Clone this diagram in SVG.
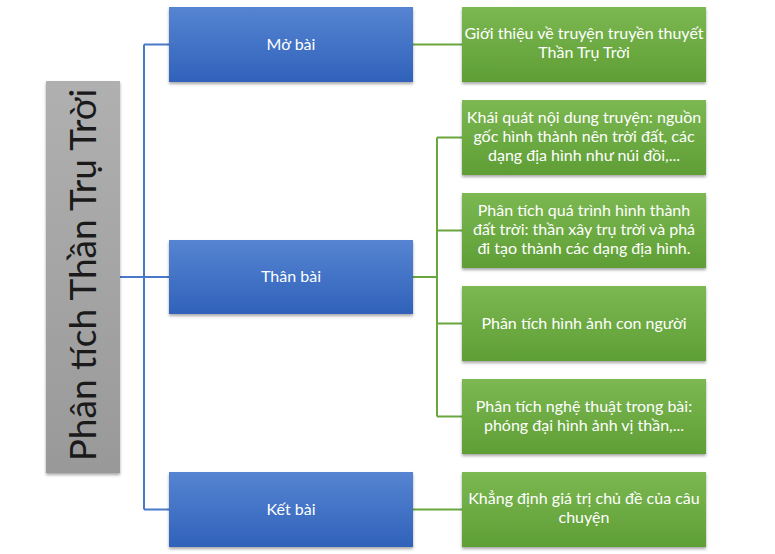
<svg xmlns="http://www.w3.org/2000/svg" width="775" height="554" viewBox="0 0 775 554">
<defs>
<linearGradient id="gBlue" x1="0" y1="0" x2="0" y2="1"><stop offset="0" stop-color="#5684d2"/><stop offset="1" stop-color="#3062ba"/></linearGradient>
<linearGradient id="gGreen" x1="0" y1="0" x2="0" y2="1"><stop offset="0" stop-color="#7cb852"/><stop offset="1" stop-color="#5f9e35"/></linearGradient>
<linearGradient id="gGray" x1="0" y1="0" x2="0" y2="1"><stop offset="0" stop-color="#b0b0b0"/><stop offset="1" stop-color="#999999"/></linearGradient>
<filter id="sh" x="-10%" y="-10%" width="120%" height="130%"><feDropShadow dx="0" dy="2" stdDeviation="1.5" flood-color="#000" flood-opacity="0.35"/></filter>
</defs>
<style>
.blue{fill:url(#gBlue);filter:url(#sh)}
.green{fill:url(#gGreen);filter:url(#sh)}
.gray{fill:url(#gGray);filter:url(#sh)}
.t{font-family:Lato,"Liberation Sans",sans-serif;font-size:16px;fill:#fff;text-anchor:middle}
.title{font-family:Lato,"Liberation Sans",sans-serif;font-size:37px;fill:#1a1a1a;text-anchor:middle}
.cb{fill:none;stroke:#4a78c8;stroke-width:2}
.cg{fill:none;stroke:#6aa63e;stroke-width:2}
</style>
<g id="connectors">
<path class="cb" d="M120,277 H169 M144,44.5 V509.5 M144,44.5 H169 M144,509.5 H169"/>
<path class="cg" d="M413,44.5 H462 M413,277 H437 M437,137.5 V416.5 M437,137.5 H462 M437,230.5 H462 M437,323.5 H462 M437,416.5 H462 M413,509.5 H462"/>
</g>
<g id="root"><rect class="gray" x="46" y="81" width="74" height="392"/><text class="title" transform="translate(96,275) rotate(-90)">Phân tích Thần Trụ Trời</text></g>
<g id="mobai"><rect class="blue" x="169" y="7" width="244" height="75"/><text class="t" x="291" y="50">Mở bài</text></g>
<g id="thanbai"><rect class="blue" x="169" y="240" width="244" height="74"/><text class="t" x="291" y="282">Thân bài</text></g>
<g id="ketbai"><rect class="blue" x="169" y="472" width="244" height="75"/><text class="t" x="291" y="515">Kết bài</text></g>
<g id="g1"><rect class="green" x="462" y="7" width="244" height="75"/><text class="t" x="584" y="39">Giới thiệu về truyện truyền thuyết</text><text class="t" x="584" y="58">Thần Trụ Trời</text></g>
<g id="g2"><rect class="green" x="462" y="100" width="244" height="75"/><text class="t" x="584" y="123">Khái quát nội dung truyện: nguồn</text><text class="t" x="584" y="142">gốc hình thành nên trời đất, các</text><text class="t" x="584" y="161">dạng địa hình như núi đồi,...</text></g>
<g id="g3"><rect class="green" x="462" y="193" width="244" height="75"/><text class="t" x="584" y="216">Phân tích quá trình hình thành</text><text class="t" x="584" y="235">đất trời: thần xây trụ trời và phá</text><text class="t" x="584" y="254">đi tạo thành các dạng địa hình.</text></g>
<g id="g4"><rect class="green" x="462" y="286" width="244" height="75"/><text class="t" x="584" y="329">Phân tích hình ảnh con người</text></g>
<g id="g5"><rect class="green" x="462" y="379" width="244" height="75"/><text class="t" x="584" y="412">Phân tích nghệ thuật trong bài:</text><text class="t" x="584" y="431">phóng đại hình ảnh vị thần,...</text></g>
<g id="g6"><rect class="green" x="462" y="472" width="244" height="75"/><text class="t" x="584" y="504">Khẳng định giá trị chủ đề của câu</text><text class="t" x="584" y="523">chuyện</text></g>
</svg>
